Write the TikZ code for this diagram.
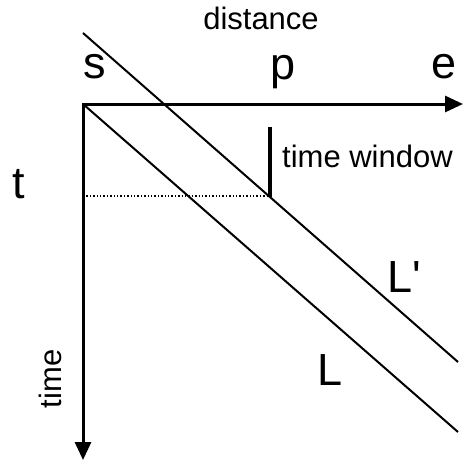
\documentclass[tikz,border=0pt]{standalone}
\usepackage{fontspec}
\setmainfont{Liberation Sans}
\usetikzlibrary{arrows.meta}
\begin{document}
\begin{tikzpicture}[x=1pt,y=-1pt,
  axis/.style={line width=3pt,line join=miter,{Triangle[length=18pt,width=16pt]}-{Triangle[length=18pt,width=16pt]}},
  diag/.style={line width=2pt},
  bigl/.style={inner sep=0pt,font=\fontsize{45}{50}\selectfont},
  smalll/.style={inner sep=0pt,font=\fontsize{31}{36}\selectfont},
  tick/.style={line width=4.5pt},
  guide/.style={line width=1.4pt,dotted}]
\useasboundingbox (0,0) rectangle (463,460);
\coordinate (O) at (83,104);
\coordinate (xend) at (463,104);
\coordinate (yend) at (83,460);
\coordinate (Lend) at (458,432);
\coordinate (Lpstart) at (83,33);
\coordinate (Lpend) at (458,362);
\coordinate (tickbot) at (270,197);
\coordinate (ticktop) at (270,127);
\coordinate (tleft) at (83,196);
\coordinate (tright) at (268,196);
\draw[axis] (xend) -- (O) -- (yend);
\draw[diag] (O) -- (Lend);
\draw[diag] (Lpstart) -- (Lpend);
\draw[tick] (ticktop) -- (tickbot);
\draw[guide] (tleft) -- (tright);
\node[smalll,anchor=base] (dist) at (261,30) {distance};
\node[bigl,anchor=base west] (s) at (83,78) {s};
\node[bigl,anchor=base west] (p) at (270,79) {p};
\node[bigl,anchor=base west] (e) at (431,78) {e};
\node[bigl,anchor=base west] (t) at (12,198) {t};
\node[smalll,anchor=base west] (tw) at (282,167) {time window};
\node[bigl,anchor=base west] (Lp) at (387,292) {L\textquotesingle};
\node[bigl,anchor=base west] (L) at (317,385) {L};
\node[smalll,anchor=base,rotate=90] (time) at (61,379) {time};
\end{tikzpicture}
\end{document}
